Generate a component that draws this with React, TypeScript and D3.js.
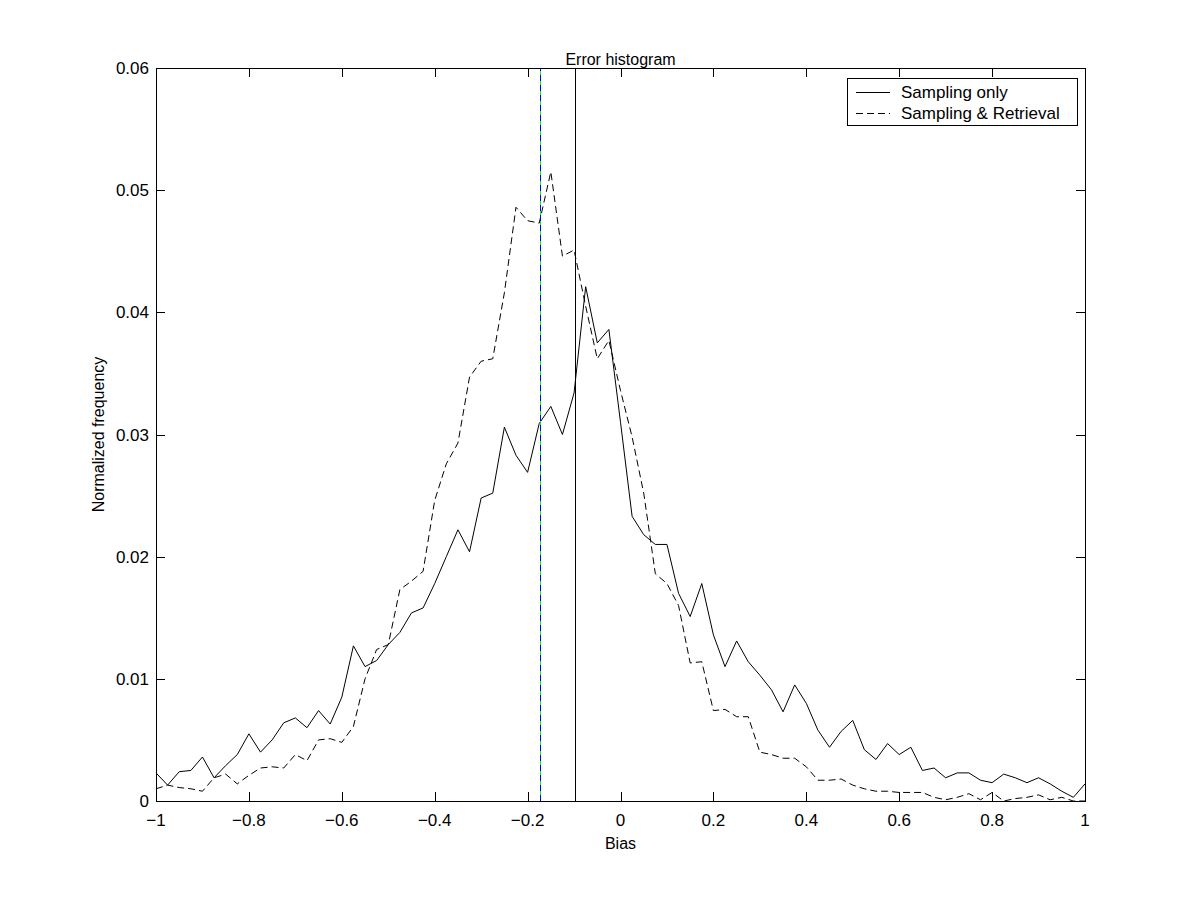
import * as d3 from "d3";
import {useEffect, useRef} from "react";

// bin centres -1 .. 1 step 0.025
const bins = d3.range(81).map(i => -1 + i * 0.025);

const samplingOnly = [
    0.0023, 0.0013, 0.0024, 0.0025, 0.0036, 0.0019, 0.0029, 0.0038, 0.0055, 0.0040,
    0.0050, 0.0064, 0.0068, 0.0060, 0.0074, 0.0063, 0.0085, 0.0127, 0.0110, 0.0115,
    0.0128, 0.0138, 0.0154, 0.0158, 0.0178, 0.0200, 0.0222, 0.0204, 0.0248, 0.0252,
    0.0306, 0.0283, 0.0269, 0.0309, 0.0323, 0.0300, 0.0334, 0.0421, 0.0375, 0.0386,
    0.0310, 0.0233, 0.0218, 0.0210, 0.0210, 0.0170, 0.0151, 0.0178, 0.0136, 0.0110,
    0.0131, 0.0114, 0.0103, 0.0091, 0.0073, 0.0095, 0.0080, 0.0058, 0.0044, 0.0057,
    0.0066, 0.0042, 0.0034, 0.0047, 0.0038, 0.0044, 0.0025, 0.0027, 0.0019, 0.0023,
    0.0023, 0.0017, 0.0015, 0.0022, 0.0019, 0.0015, 0.0019, 0.0014, 0.0008, 0.0003,
    0.0014
];

const samplingRetrieval = [
    0.0010, 0.0013, 0.0011, 0.0010, 0.0008, 0.0019, 0.0022, 0.0014, 0.0021, 0.0027,
    0.0028, 0.0027, 0.0038, 0.0033, 0.0050, 0.0051, 0.0048, 0.0061, 0.0100, 0.0124,
    0.0128, 0.0173, 0.0180, 0.0188, 0.0246, 0.0276, 0.0293, 0.0347, 0.0360, 0.0362,
    0.0416, 0.0486, 0.0475, 0.0473, 0.0515, 0.0446, 0.0451, 0.0405, 0.0362, 0.0377,
    0.0336, 0.0298, 0.0252, 0.0186, 0.0178, 0.0160, 0.0113, 0.0114, 0.0074, 0.0075,
    0.0069, 0.0069, 0.0040, 0.0038, 0.0035, 0.0035, 0.0028, 0.0017, 0.0017, 0.0018,
    0.0013, 0.0010, 0.0008, 0.0008, 0.0007, 0.0007, 0.0007, 0.0003, 0.0001, 0.0003,
    0.0006, 0.0001, 0.0007, 0.0000, 0.0002, 0.0003, 0.0005, 0.0001, 0.0003, 0.0000,
    0.0000
];

const xTicks = [-1, -0.8, -0.6, -0.4, -0.2, 0, 0.2, 0.4, 0.6, 0.8, 1];
const yTicks = [0, 0.01, 0.02, 0.03, 0.04, 0.05, 0.06];

// vertical marker lines (means)
const meanRetrieval = -0.173;
const meanSampling = -0.098;

const legendItems = [
    {label: "Sampling only", dash: null},
    {label: "Sampling & Retrieval", dash: "7,4"}
];

const width = 1200;
const height = 901;
const margin = {left: 156, right: 115, top: 68, bottom: 100};
const font = "'Liberation Sans', Arial, Helvetica, sans-serif";

const useD3 = (renderChartFn, dependencies) => {
    const ref = useRef(null);
    useEffect(() => {
        renderChartFn(d3.select(ref.current));
        return () => {};
    }, dependencies);
    return ref;
};

const App = () => {
    const ref = useD3((svg) => {
        svg.selectAll("*").remove();

        const x = d3.scaleLinear().domain([-1, 1]).range([margin.left, width - margin.right]);
        const y = d3.scaleLinear().domain([0, 0.06]).range([height - margin.bottom, margin.top]);
        const x0 = x.range()[0], x1 = x.range()[1];
        const y0 = y.range()[0], y1 = y.range()[1];
        const crisp = v => Math.round(v) + 0.5;

        svg.append("rect")
            .attr("width", width).attr("height", height).attr("fill", "white");

        const line = d3.line()
            .x((d, i) => x(bins[i]))
            .y(d => y(d));

        // curves
        svg.append("path")
            .datum(samplingOnly)
            .attr("d", line)
            .attr("fill", "none")
            .attr("stroke", "black")
            .attr("stroke-width", 1);

        svg.append("path")
            .datum(samplingRetrieval)
            .attr("d", line)
            .attr("fill", "none")
            .attr("stroke", "black")
            .attr("stroke-width", 1)
            .attr("stroke-dasharray", "7,4");

        // mean lines
        svg.append("line")
            .attr("x1", crisp(x(meanRetrieval))).attr("x2", crisp(x(meanRetrieval)))
            .attr("y1", y0).attr("y2", y1)
            .attr("stroke", "#00ff00").attr("stroke-width", 1);
        svg.append("line")
            .attr("x1", crisp(x(meanRetrieval))).attr("x2", crisp(x(meanRetrieval)))
            .attr("y1", y0).attr("y2", y1)
            .attr("stroke", "#0000ff").attr("stroke-width", 1)
            .attr("stroke-dasharray", "6,4");
        svg.append("line")
            .attr("x1", crisp(x(meanSampling))).attr("x2", crisp(x(meanSampling)))
            .attr("y1", y0).attr("y2", y1)
            .attr("stroke", "black").attr("stroke-width", 1);

        // box
        svg.append("rect")
            .attr("x", x0 + 0.5).attr("y", y1 + 0.5)
            .attr("width", x1 - x0).attr("height", y0 - y1)
            .attr("fill", "none").attr("stroke", "black").attr("stroke-width", 1);

        const tickLen = 9;
        const g = svg.append("g").attr("stroke", "black").attr("stroke-width", 1);
        xTicks.forEach(t => {
            const px = crisp(x(t));
            g.append("line").attr("x1", px).attr("x2", px).attr("y1", y0).attr("y2", y0 - tickLen);
            g.append("line").attr("x1", px).attr("x2", px).attr("y1", y1).attr("y2", y1 + tickLen);
        });
        yTicks.forEach(t => {
            const py = crisp(y(t));
            g.append("line").attr("x1", x0).attr("x2", x0 + tickLen).attr("y1", py).attr("y2", py);
            g.append("line").attr("x1", x1).attr("x2", x1 - tickLen).attr("y1", py).attr("y2", py);
        });

        const fmt = d3.format("");
        svg.selectAll(".xt")
            .data(xTicks)
            .enter()
            .append("text")
            .attr("x", d => x(d))
            .attr("y", y0 + 25)
            .attr("text-anchor", "middle")
            .attr("font-family", font)
            .attr("font-size", 17)
            .text(d => fmt(d));

        svg.selectAll(".yt")
            .data(yTicks)
            .enter()
            .append("text")
            .attr("x", x0 - 7)
            .attr("y", d => y(d) + 6)
            .attr("text-anchor", "end")
            .attr("font-family", font)
            .attr("font-size", 17)
            .text(d => fmt(d));

        svg.append("text")
            .attr("x", (x0 + x1) / 2).attr("y", 65)
            .attr("text-anchor", "middle")
            .attr("font-family", font).attr("font-size", 16)
            .text("Error histogram");

        svg.append("text")
            .attr("x", (x0 + x1) / 2).attr("y", y0 + 48)
            .attr("text-anchor", "middle")
            .attr("font-family", font).attr("font-size", 16)
            .text("Bias");

        svg.append("text")
            .attr("transform", `translate(104,${(y0 + y1) / 2}) rotate(-90)`)
            .attr("text-anchor", "middle")
            .attr("font-family", font).attr("font-size", 16)
            .text("Normalized frequency");

        // legend
        const lg = svg.append("g");
        lg.append("rect")
            .attr("x", 847.5).attr("y", 78.5).attr("width", 230).attr("height", 47)
            .attr("fill", "white").attr("stroke", "black").attr("stroke-width", 1);
        legendItems.forEach((item, i) => {
            const ly = 92 + i * 21;
            lg.append("line")
                .attr("x1", 856).attr("x2", 890).attr("y1", ly + 0.5).attr("y2", ly + 0.5)
                .attr("stroke", "black").attr("stroke-width", 1)
                .attr("stroke-dasharray", item.dash);
            lg.append("text")
                .attr("x", 901).attr("y", ly + 6)
                .attr("font-family", font).attr("font-size", 17)
                .text(item.label);
        });
    }, []);

    return (
        <svg
            ref={ref}
            width={width}
            height={height}
            style={{display: "block", position: "absolute", left: 0, top: 0}}>
        </svg>
    );
};

export default App;
